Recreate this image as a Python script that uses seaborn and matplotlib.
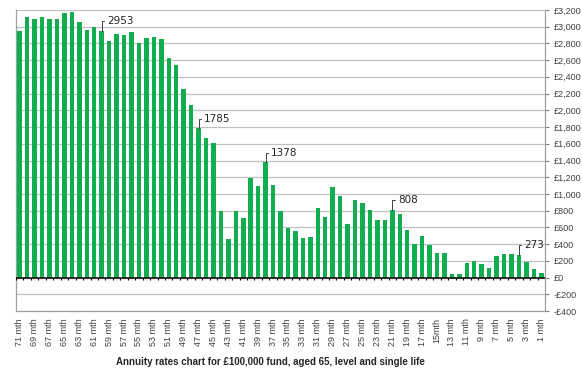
import numpy as np
import pandas as pd
import matplotlib
matplotlib.use('Agg')
import matplotlib.pyplot as plt
import seaborn as sns

# データ（71ヶ月前 → 1ヶ月前）
months = [f"{m} mth" for m in range(71, 0, -1)]
rates = [2950, 3120, 3095, 3110, 3095, 3095, 3160, 3175, 3060, 2960,
         2990, 2953, 2825, 2910, 2900, 2940, 2800, 2865, 2875, 2855,
         2630, 2545, 2260, 2060, 1785, 1665, 1605, 800, 465, 795,
         710, 1195, 1095, 1378, 1105, 800, 590, 555, 480, 490,
         835, 730, 1080, 980, 645, 930, 895, 810, 695, 690,
         808, 760, 565, 400, 495, 390, 300, 290, 45, 40,
         170, 195, 160, 120, 265, 280, 280, 273, 190, 105, 60]
labelled = ["60 mth", "47 mth", "38 mth", "21 mth", "4 mth"]
y_ticks = list(range(-400, 3201, 200))

df = pd.DataFrame({'month': months, 'rate': rates})

sns.set_style('white')
plt.rcParams['font.family'] = ['Liberation Sans', 'DejaVu Sans']

fig = plt.figure(figsize=(5.82, 3.79), dpi=100)
ax = fig.add_axes([0.0275, 0.179, 0.909, 0.795])

sns.barplot(data=df, x='month', y='rate', order=months, color='#12AD4F',
            saturation=1, width=0.6, linewidth=0, ax=ax, zorder=3)

ax.set_ylim(-400, 3200)
ax.set_xlim(-0.5, len(months) - 0.5)
ax.set_yticks(y_ticks)
ax.set_yticklabels([f"-£{abs(v):,}" if v < 0 else f"£{v:,}" for v in y_ticks],
                   fontsize=6.5, color='#404040')
ax.yaxis.tick_right()
ax.tick_params(axis='y', which='major', length=3, color='#808080', pad=3, right=True, left=False)
ax.grid(axis='y', color='#C0C0C0', lw=0.9, zorder=0)
ax.set_axisbelow(True)

# x軸ラベル（1つおき）
pos = list(range(0, len(months), 2))
ax.set_xticks(pos)
ax.set_xticklabels([months[i] if months[i] != "15 mth" else "15mth" for i in pos],
                   rotation=90, fontsize=6.5, color='#404040')
ax.tick_params(axis='x', length=0, pad=5)
ax.set_xlabel('')
ax.set_ylabel('')

for s in ['left', 'right', 'bottom']:
    ax.spines[s].set_color('#A0A0A0')
    ax.spines[s].set_linewidth(0.9)
ax.spines['top'].set_visible(False)

# ゼロライン + 目盛り
ax.axhline(0, color='black', lw=1.1, zorder=4)
ax.vlines(np.arange(len(months)) - 0.5, -25, 0, color='black', lw=0.8, zorder=4)

# データラベル
for m in labelled:
    i = months.index(m)
    v = rates[i]
    ax.annotate(f"{v}", xy=(i, v), xytext=(4, 7), textcoords='offset points',
                fontsize=7.5, family='DejaVu Sans', ha='left', va='center', zorder=5,
                arrowprops=dict(arrowstyle='-', lw=0.7, color='#404040',
                                connectionstyle='angle,angleA=0,angleB=90,rad=0',
                                shrinkA=0, shrinkB=0))

fig.text(0.465, 0.045, "Annuity rates chart for £100,000 fund, aged 65, level and single life",
         ha='center', va='center', fontsize=7, fontweight='bold')

fig.savefig('out.png', dpi=100)
